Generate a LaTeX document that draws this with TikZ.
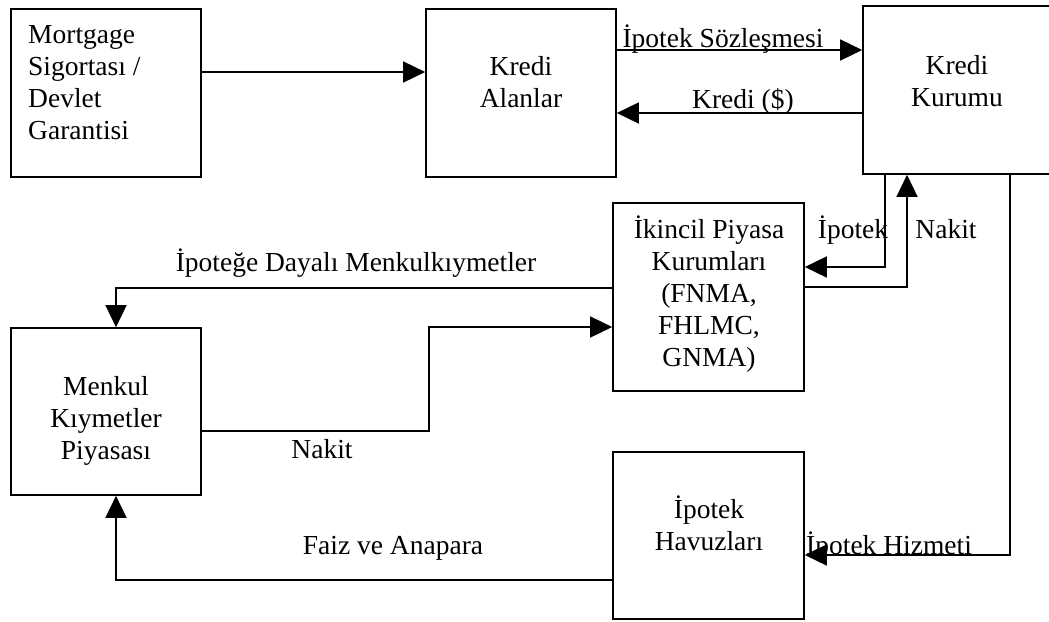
\documentclass[tikz,border=0pt]{standalone}
\usepackage{fontspec}
\setmainfont{Liberation Serif}
\usetikzlibrary{arrows.meta}
\tikzset{
  box/.style={draw, line width=1.6pt, inner sep=0pt},
  txt/.style={inner sep=0pt, anchor=base, align=center, font=\fontsize{27.5}{32}\selectfont},
  arr/.style={line width=1.5pt, -{Triangle[length=22pt,width=21pt]}},
}
\begin{document}
\begin{tikzpicture}[x=1pt,y=-1pt]
\useasboundingbox (0,0) rectangle (1049,621);
\clip (0,0) rectangle (1049,621);
% boxes
\node[box, minimum width=190pt, minimum height=168pt] (b1) at (106,93) {};
\node[box, minimum width=190pt, minimum height=168pt] (b2) at (521,93) {};
\node[box, minimum width=200pt, minimum height=168pt] (b3) at (963,90) {};
\node[box, minimum width=191pt, minimum height=188pt] (b4) at (708.5,297) {};
\node[box, minimum width=190pt, minimum height=167pt] (b5) at (106,411.5) {};
\node[box, minimum width=191pt, minimum height=167pt] (b6) at (708.5,535.5) {};
% box texts (base anchor = baseline of last line)
\node[txt, anchor=base west, align=left] (t1) at (28,139) {Mortgage\\Sigortası /\\Devlet\\Garantisi};
\node[txt] (t2) at (521,107) {Kredi\\Alanlar};
\node[txt] (t3) at (957,106) {Kredi\\Kurumu};
\node[txt] (t4) at (709,366) {İkincil Piyasa\\Kurumları\\(FNMA,\\FHLMC,\\GNMA)};
\node[txt] (t5) at (106,459) {Menkul\\Kıymetler\\Piyasası};
\node[txt] (t6) at (709,550) {İpotek\\Havuzları};
% connectors
\draw[arr] ([yshift=21pt]b1.east) -- ([yshift=21pt]b1.east -| b2.west);
\draw[arr] ([yshift=43pt]b2.east) -- ([yshift=43pt]b2.east -| b3.west);
\draw[arr] ([yshift=-23pt]b3.west) -- ([yshift=-23pt]b3.west -| b2.east);
\draw[arr] ([xshift=-78pt]b3.south) |- ([yshift=30pt]b4.east);
\draw[arr] ([yshift=10pt]b4.east) -| ([xshift=-56pt]b3.south);
\draw[arr] ([xshift=47pt]b3.south) |- ([yshift=-19.5pt]b6.east);
\draw[arr] ([yshift=9pt]b4.west) -| ([xshift=10pt]b5.north);
\coordinate (k) at (429,380);
\draw[arr] ([yshift=-19.5pt]b5.east) -| (k) |- ([yshift=-30pt]b4.west);
\draw[arr] ([yshift=-44.5pt]b6.west) -| ([xshift=10pt]b5.south);
% connector labels
\node[txt] (l1) at (723,47) {İpotek Sözleşmesi};
\node[txt] (l2) at (743,108) {Kredi (\$)};
\node[txt] (l3) at (853,238) {İpotek};
\node[txt] (l4) at (946,238) {Nakit};
\node[txt] (l5) at (356,271) {İpoteğe Dayalı Menkulkıymetler};
\node[txt] (l6) at (322,458) {Nakit};
\node[txt] (l7) at (393,554) {Faiz ve Anapara};
\node[txt, anchor=base west] (l8) at (806,554) {İpotek Hizmeti};
\end{tikzpicture}
\end{document}
